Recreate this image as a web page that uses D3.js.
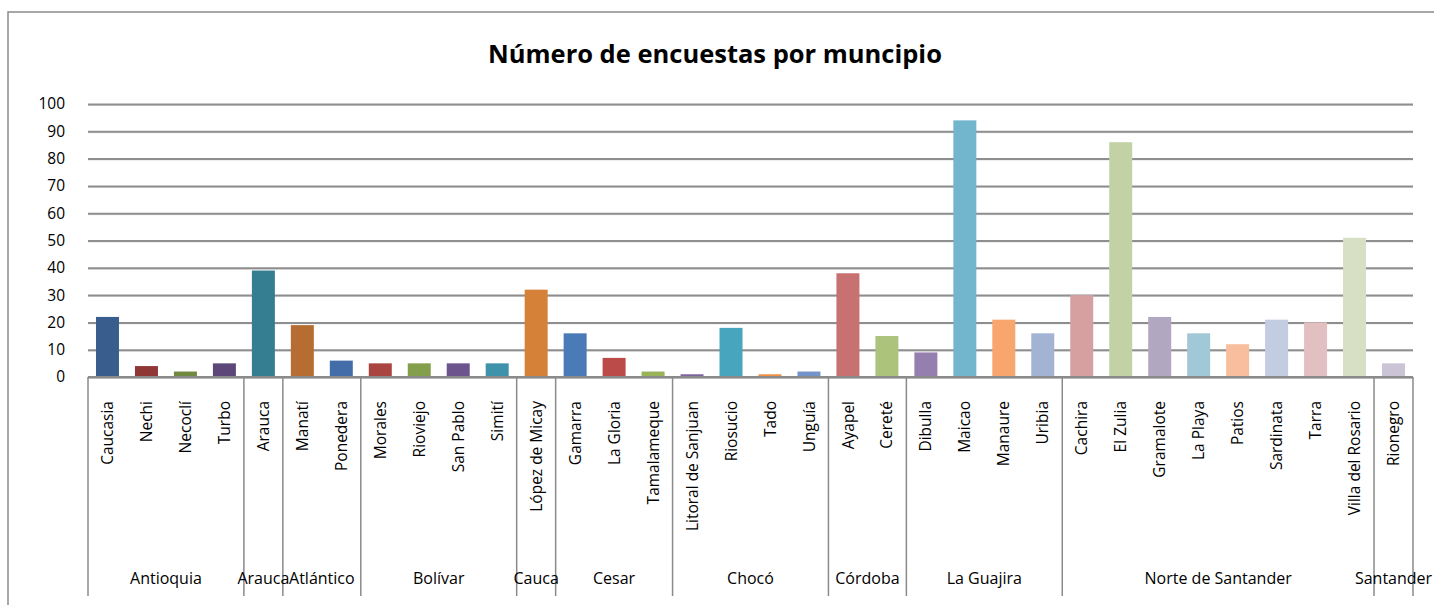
<!DOCTYPE html>
<html>
<head>
<meta charset="utf-8">
<script src="https://cdn.jsdelivr.net/npm/d3@7"></script>
<style>
  body { margin: 0; background: #fff; }
  .grid line { stroke: #8e8e8e; stroke-width: 2; }
  .grid path { display: none; }
  .ylab path, .ylab line { display: none; }
  .ylab text { font-family: "Open Sans", sans-serif; font-size: 15.5px; fill: #000; }
</style>
</head>
<body>
<div id="chart"></div>
<script>
// datos
var municipios = ["Caucasia","Nechi","Necoclí","Turbo","Arauca","Manatí","Ponedera",
  "Morales","Rioviejo","San Pablo","Simití","López de Micay","Gamarra","La Gloria",
  "Tamalameque","Litoral de Sanjuan","Riosucio","Tado","Unguía","Ayapel","Cereté",
  "Dibulla","Maicao","Manaure","Uribia","Cachira","El Zulia","Gramalote","La Playa",
  "Patios","Sardinata","Tarra","Villa del Rosario","Rionegro"]

var departamentos = ["Antioquia","Antioquia","Antioquia","Antioquia","Arauca","Atlántico","Atlántico",
  "Bolívar","Bolívar","Bolívar","Bolívar","Cauca","Cesar","Cesar",
  "Cesar","Chocó","Chocó","Chocó","Chocó","Córdoba","Córdoba",
  "La Guajira","La Guajira","La Guajira","La Guajira","Norte de Santander","Norte de Santander","Norte de Santander","Norte de Santander",
  "Norte de Santander","Norte de Santander","Norte de Santander","Norte de Santander","Santander"]

var encuestas = [22,4,2,5,39,19,6,5,5,5,5,32,16,7,2,1,18,1,2,38,15,9,94,21,16,30,86,22,16,12,21,20,51,5]

var yTicks = [0,10,20,30,40,50,60,70,80,90,100]

var palette = ["#395e8e","#8e3735","#71893f","#5d4779","#357d91","#b66d31","#426da9",
  "#a94441","#849f4b","#6e548d","#3e93ab","#d58137","#4a7bb7","#ba4b48",
  "#97b356","#7e63a1","#47a5be","#f1903f","#7493ca","#c87171","#abc37a",
  "#957fae","#71b6cd","#f8a66d","#a2b3d3","#d6a0a0","#c2d2a4","#b1a7c1","#a1c8d7",
  "#f8be9e","#c3cde1","#e2c0c1","#d7e0c4","#cac4d6"]

var W = 1434, H = 605
var margin = {left: 88, right: 1413, top: 104, bottom: 377}

var svg = d3.select("#chart").append("svg")
  .attr("width", W).attr("height", H)

// marco
svg.append("rect")
  .attr("x", 8).attr("y", 12)
  .attr("width", W + 20).attr("height", H + 20)
  .attr("fill", "none").attr("stroke", "#8a8a8a").attr("stroke-width", 1.5)

var data = municipios.map(function(m, i) {
  return { name: m, dept: departamentos[i], value: encuestas[i] }
})

var xCat = d3.scaleBand().domain(municipios).range([margin.left, margin.right])
var x = d3.scaleBand().domain(municipios).range([margin.left, margin.right])
  .paddingInner(0.41).paddingOuter(0.205)
var y = d3.scaleLinear().domain([0, 100]).range([margin.bottom, margin.top])

// sombra de las líneas de cuadrícula
svg.append("g")
  .selectAll("line").data(yTicks).enter().append("line")
  .attr("x1", margin.left).attr("x2", margin.right)
  .attr("y1", function(d) { return y(d) + 1.5 }).attr("y2", function(d) { return y(d) + 1.5 })
  .attr("stroke", "#e2e2e2").attr("stroke-width", 1)

svg.append("g")
  .attr("class", "grid")
  .attr("transform", "translate(" + margin.left + ",0)")
  .call(d3.axisLeft(y).tickValues(yTicks).tickSize(-(margin.right - margin.left)).tickFormat(""))

svg.append("g")
  .attr("class", "ylab")
  .attr("transform", "translate(" + margin.left + ",0)")
  .call(d3.axisLeft(y).tickValues(yTicks).tickSize(0).tickPadding(23))

// barras
svg.append("g").selectAll("rect").data(data).enter().append("rect")
  .attr("x", function(d) { return x(d.name) })
  .attr("width", x.bandwidth())
  .attr("y", function(d) { return y(d.value) })
  .attr("height", function(d) { return y(0) - y(d.value) })
  .attr("fill", function(d, i) { return palette[i] })

// eje horizontal
svg.append("line")
  .attr("x1", margin.left).attr("x2", margin.right)
  .attr("y1", y(0)).attr("y2", y(0))
  .attr("stroke", "#8a8a8a").attr("stroke-width", 2)

// etiquetas de municipio
svg.append("g").selectAll("text").data(data).enter().append("text")
  .attr("transform", function(d) {
    return "translate(" + (xCat(d.name) + xCat.bandwidth() / 2) + ",401) rotate(-90)"
  })
  .attr("dy", "0.36em")
  .attr("text-anchor", "end")
  .style("font-family", "'Open Sans', sans-serif")
  .style("font-size", "15.5px")
  .text(function(d) { return d.name })

// grupos por departamento
var groups = []
data.forEach(function(d) {
  var g = groups[groups.length - 1]
  if (!g || g.name !== d.dept) { groups.push({ name: d.dept, first: d.name, last: d.name }) }
  else { g.last = d.name }
})

var bounds = [margin.left].concat(groups.map(function(g) { return xCat(g.last) + xCat.bandwidth() }))
svg.append("g").selectAll("line").data(bounds).enter().append("line")
  .attr("x1", function(d) { return d }).attr("x2", function(d) { return d })
  .attr("y1", y(0)).attr("y2", 596)
  .attr("stroke", "#8a8a8a").attr("stroke-width", 1.5)

svg.append("g").selectAll("text").data(groups).enter().append("text")
  .attr("x", function(g) { return (xCat(g.first) + xCat(g.last) + xCat.bandwidth()) / 2 })
  .attr("y", 584)
  .attr("text-anchor", "middle")
  .style("font-family", "'Open Sans', sans-serif")
  .style("font-size", "16px")
  .text(function(g) { return g.name })

// título
svg.append("text")
  .attr("x", 715).attr("y", 63)
  .attr("text-anchor", "middle")
  .style("font-family", "'Open Sans', sans-serif")
  .style("font-weight", "bold")
  .style("font-size", "25.5px")
  .text("Número de encuestas por muncipio")
</script>
</body>
</html>
